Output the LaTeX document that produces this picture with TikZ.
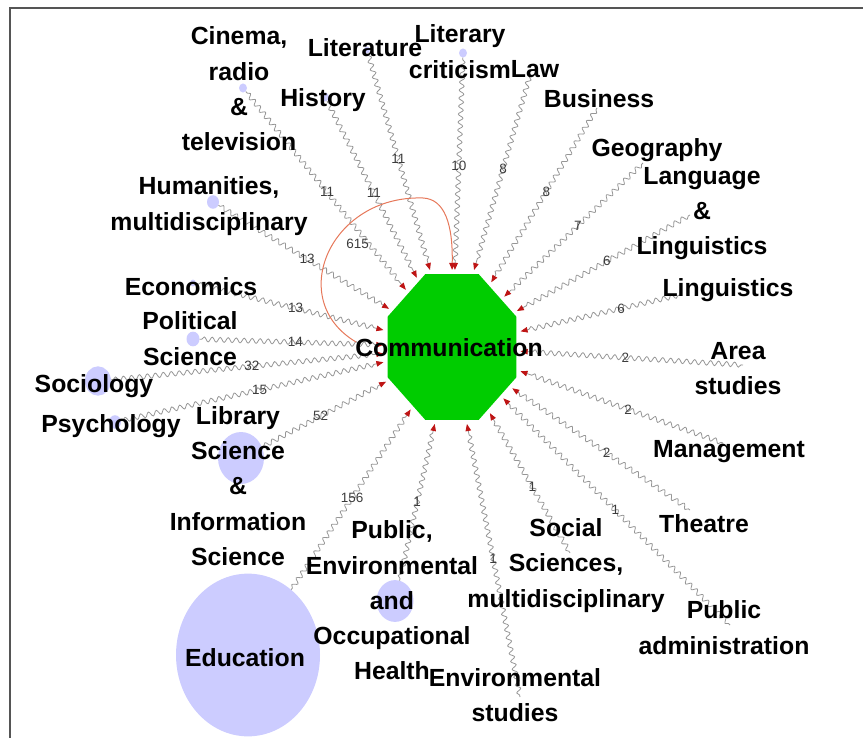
\documentclass[tikz,border=0pt]{standalone}
\usepackage{fontspec}
\setmainfont{Liberation Sans}
\usetikzlibrary{shapes}
\usetikzlibrary{decorations.pathmorphing}
\usetikzlibrary{positioning, arrows.meta}

\definecolor{fieldblue}{RGB}{204,204,255}
\definecolor{hubgreen}{RGB}{0,204,0}
\definecolor{linkgray}{RGB}{150,150,150}
\definecolor{arrowred}{RGB}{190,20,20}
\definecolor{loopred}{RGB}{230,120,90}
\definecolor{weightgray}{RGB}{60,60,60}
\definecolor{framegray}{RGB}{85,85,85}

\newcommand{\fieldfont}{\fontsize{24.8}{35.3}\selectfont\bfseries}
\newcommand{\weightfont}{\fontsize{13.5}{15}\selectfont}

\begin{document}
\begin{tikzpicture}[x=1pt, y=-1pt,
    field/.style={ellipse, fill=fieldblue, inner sep=0pt, minimum width={2*#1pt}, minimum height={2.26*#1pt}},
    fieldtext/.style={font=\fieldfont, align=center, text=black, inner sep=0pt},
    hub/.style={regular polygon, regular polygon sides=8, minimum size=139.6pt, inner sep=0pt, fill=hubgreen},
    link/.style={draw=linkgray, line width=0.8pt, decorate,
        decoration={snake, amplitude=2.4pt, segment length=8pt, pre length=2pt, post length=12pt},
        -{Triangle[length=7pt, width=5.5pt, color=arrowred]}, shorten >=4pt},
    selfloop/.style={draw=loopred, line width=1pt, -{Triangle[length=7pt, width=6pt, color=arrowred]}, shorten >=4pt},
    wt/.style={font=\weightfont, text=weightgray, inner sep=1pt}]

    \useasboundingbox (0,0) rectangle (863,738);
    \draw[framegray, line width=2pt] (10,738) -- (10,8) -- (863,8);

    % Hub
    \begin{scope}[shift={(452,347)}]
        \node[hub, yscale=1.13, transform shape] (comm) at (0,0) {};
    \end{scope}

    % Fields
    \node[field=4] (cinema) at (243,88) {};
    \node[field=4] (history) at (325,97) {};
    \node[field=3] (literature) at (367,50) {};
    \node[field=4] (litcrit) at (463,53) {};
    \coordinate (law) at (530,75);
    \coordinate (business) at (597,108);
    \coordinate (geography) at (643,163);
    \coordinate (language) at (690,215);
    \coordinate (linguistics) at (680,295);
    \coordinate (area) at (743,365);
    \coordinate (management) at (723,443);
    \coordinate (theatre) at (690,510);
    \coordinate (pubadmin) at (730,625);
    \coordinate (socsci) at (570,553);
    \coordinate (envstud) at (520,697);
    \node[field=18.5] (pubhealth) at (395,601) {};
    \node[field=72] (education) at (248,655) {};
    \node[field=23] (library) at (241,458) {};
    \node[field=6] (psychology) at (115,422) {};
    \node[field=13] (sociology) at (98,381) {};
    \node[field=6.5] (polisci) at (193,339) {};
    \node[field=3] (economics) at (193,283) {};
    \node[field=6] (humanities) at (213,202) {};

    % Edges
    \draw[link] (cinema) -- node[wt, pos=.50] {11} (comm);
    \draw[link] (history) -- node[wt, pos=.51] {11} (comm);
    \draw[link] (literature) -- node[wt, pos=.48] {11} (comm);
    \draw[link] (litcrit) -- node[wt, pos=.50] {10} (comm);
    \draw[link] (law) -- node[wt, pos=.47] {8} (comm);
    \draw[link] (business) -- node[wt, pos=.47] {8} (comm);
    \draw[link] (geography) -- node[wt, pos=.46] {7} (comm);
    \draw[link] (language) -- node[wt, pos=.47] {6} (comm);
    \draw[link] (linguistics) -- node[wt, pos=.36] {6} (comm);
    \draw[link] (area) -- node[wt, pos=.52] {2} (comm);
    \draw[link] (management) -- node[wt, pos=.46] {2} (comm);
    \draw[link] (theatre) -- node[wt, pos=.46] {2} (comm);
    \draw[link] (pubadmin) -- node[wt, pos=.50] {1} (comm);
    \draw[link] (socsci) -- node[wt, pos=.46] {1} (comm);
    \draw[link] (envstud) -- node[wt, pos=.50] {1} (comm);
    \draw[link] (pubhealth) -- node[wt, pos=.49] {1} (comm);
    \draw[link] (education) -- node[wt, pos=.50] {156} (comm);
    \draw[link] (library) -- node[wt, pos=.46] {52} (comm);
    \draw[link] (psychology) -- node[wt, pos=.52] {15} (comm);
    \draw[link] (sociology) -- node[wt, pos=.51] {32} (comm);
    \draw[link] (polisci) -- node[wt, pos=.51] {14} (comm);
    \draw[link] (economics) -- node[wt, pos=.52] {13} (comm);
    \draw[link] (humanities) -- node[wt, pos=.51] {13} (comm);

    % Communication to itself
    \coordinate (loopstart) at (356,342);
    \draw[selfloop] (loopstart) .. controls (285,300) and (330,195) .. node[wt, pos=.55, right=12pt] {615} (423,198)
        .. controls (445,199) and (453,225) .. (comm.north);

    % Labels
    \node[fieldtext] (commtext) at (449,347.5) {Communication};
    \node[fieldtext] (cinematext) at (239,89) {Cinema,\\radio\\\&\\television};
    \node[fieldtext] (historytext) at (323,100.5) {History};
    \node[fieldtext] (literaturetext) at (365,48) {Literature};
    \node[fieldtext] (litcrittext) at (460,51.5) {Literary\\criticism};
    \node[fieldtext] (lawtext) at (535,69) {Law};
    \node[fieldtext] (businesstext) at (599,98.5) {Business};
    \node[fieldtext] (geographytext) at (657,150) {Geography};
    \node[fieldtext] (languagetext) at (702,213.5) {Language\\\&\\Linguistics};
    \node[fieldtext] (linguisticstext) at (728,290) {Linguistics};
    \node[fieldtext] (areatext) at (738,368.5) {Area\\studies};
    \node[fieldtext] (managementtext) at (729,451.5) {Management};
    \node[fieldtext] (theatretext) at (704,524) {Theatre};
    \node[fieldtext] (pubadmintext) at (724,627.5) {Public\\administration};
    \node[fieldtext] (socscitext) at (566,565.5) {Social\\Sciences,\\multidisciplinary};
    \node[fieldtext] (envstudtext) at (515,695) {Environmental\\studies};
    \node[fieldtext] (pubhealthtext) at (392,600.5) {Public,\\Environmental\\and\\Occupational\\Health};
    \node[fieldtext] (educationtext) at (245,657.5) {Education};
    \node[fieldtext] (librarytext) at (238,486) {Library\\Science\\\&\\Information\\Science};
    \node[fieldtext] (psychologytext) at (111,426.5) {Psychology};
    \node[fieldtext] (sociologytext) at (94,386) {Sociology};
    \node[fieldtext] (poliscitext) at (190,338.5) {Political\\Science};
    \node[fieldtext] (economicstext) at (191,286.5) {Economics};
    \node[fieldtext] (humanitiestext) at (209,206) {Humanities,\\multidisciplinary};

\end{tikzpicture}
\end{document}
